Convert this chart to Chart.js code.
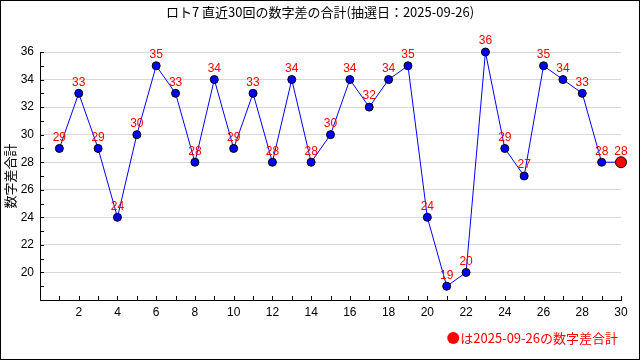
<!DOCTYPE html>
<html>
<head>
<meta charset="utf-8">
<script src="https://cdn.jsdelivr.net/npm/chart.js@4"></script>
<style>
  html, body { margin: 0; padding: 0; background: #fff; }
  #wrap { width: 640px; height: 360px; }
</style>
</head>
<body>
<div id="wrap"><canvas id="chart" width="640" height="360"></canvas></div>
<script>
// 回 (1..30) と数字差の合計
const kai = [1,2,3,4,5,6,7,8,9,10,11,12,13,14,15,16,17,18,19,20,21,22,23,24,25,26,27,28,29,30];
const sagoukei = [29,33,29,24,30,35,33,28,34,29,33,28,34,28,30,34,32,34,35,24,19,20,36,29,27,35,34,33,28,28];
const titre = "ロト7 直近30回の数字差の合計(抽選日：2025-09-26)";
const axeY = "数字差合計";
const note = "は2025-09-26の数字差合計";

const points = kai.map((k, i) => ({ x: k, y: sagoukei[i] }));
const dernier = points.length - 1;

// textes, étiquettes, petites graduations, cadre
const decor = {
    id: "decor",
    afterDatasetsDraw(chart) {
        const ctx = chart.ctx;
        const xs = chart.scales.x;
        const ys = chart.scales.y;
        const area = chart.chartArea;
        ctx.save();

        // petites graduations
        ctx.strokeStyle = "#000";
        ctx.lineWidth = 1;
        for (let v = 1; v <= 30; v++) {
            const px = Math.round(xs.getPixelForValue(v)) + 0.5;
            ctx.beginPath();
            ctx.moveTo(px, area.bottom);
            ctx.lineTo(px, area.bottom - 4);
            ctx.stroke();
        }
        for (let v = 19; v <= 36; v++) {
            const py = Math.round(ys.getPixelForValue(v)) + 0.5;
            ctx.beginPath();
            ctx.moveTo(area.left, py);
            ctx.lineTo(area.left + 4, py);
            ctx.stroke();
        }

        // étiquettes rouges
        ctx.fillStyle = "#ff0000";
        ctx.font = "12px 'Liberation Sans', Arial, sans-serif";
        ctx.textAlign = "center";
        ctx.textBaseline = "bottom";
        points.forEach((p) => {
            ctx.fillText(String(p.y), xs.getPixelForValue(p.x), ys.getPixelForValue(p.y) - 5);
        });

        // titre
        ctx.fillStyle = "#000";
        ctx.font = "13px 'Noto Sans CJK JP', sans-serif";
        ctx.textAlign = "center";
        ctx.textBaseline = "middle";
        ctx.fillText(titre, 320, 12);

        // titre de l'axe Y
        ctx.save();
        ctx.translate(10, 176);
        ctx.rotate(-Math.PI / 2);
        ctx.font = "13px 'Noto Sans CJK JP', sans-serif";
        ctx.fillText(axeY, 0, 0);
        ctx.restore();

        // note en bas
        ctx.fillStyle = "#ff0000";
        ctx.font = "13px 'Noto Sans CJK JP', sans-serif";
        ctx.textAlign = "right";
        ctx.fillText(note, 618, 338);
        const w = ctx.measureText(note).width;
        ctx.beginPath();
        ctx.arc(618 - w - 7, 338, 6, 0, Math.PI * 2);
        ctx.fill();

        // cadre
        ctx.strokeStyle = "#000";
        ctx.strokeRect(0.5, 0.5, 639, 359);
        ctx.restore();
    }
};

new Chart(document.getElementById("chart"), {
    type: "line",
    data: {
        datasets: [{
            data: points,
            clip: false,
            borderColor: "#0000ff",
            borderWidth: 1,
            tension: 0,
            pointRadius: points.map((p, i) => i === dernier ? 5.5 : 4),
            pointBackgroundColor: points.map((p, i) => i === dernier ? "#ff0000" : "#0000ff"),
            pointBorderColor: "#000",
            pointBorderWidth: 1,
        }],
    },
    options: {
        responsive: false,
        animation: false,
        layout: { padding: { top: 52, right: 19, left: 0, bottom: 0 } },
        plugins: {
            legend: { display: false },
            tooltip: { enabled: false },
        },
        scales: {
            x: {
                type: "linear",
                min: 0,
                max: 30,
                afterFit: (s) => { s.height = 60; },
                grid: { display: false, drawTicks: false },
                border: { color: "#000", width: 1 },
                ticks: {
                    stepSize: 2,
                    color: "#000",
                    padding: 5,
                    maxRotation: 0,
                    font: { family: "'Liberation Sans', Arial, sans-serif", size: 12 },
                    callback: (v) => v === 0 ? "" : v,
                },
            },
            y: {
                min: 18,
                max: 36,
                afterFit: (s) => { s.width = 40; },
                grid: { color: "#d8d8d8", drawTicks: false },
                border: { color: "#000", width: 1 },
                ticks: {
                    stepSize: 2,
                    color: "#000",
                    padding: 6,
                    font: { family: "'Liberation Sans', Arial, sans-serif", size: 12 },
                    callback: (v) => v === 18 ? "" : v,
                },
            },
        },
    },
    plugins: [decor],
});
</script>
</body>
</html>
